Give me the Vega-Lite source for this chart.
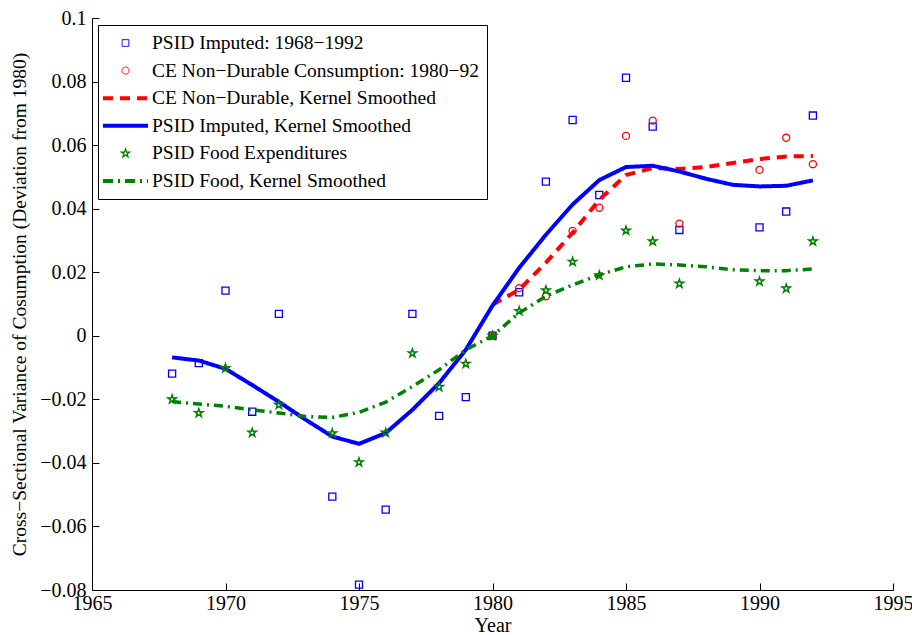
{
  "$schema": "https://vega.github.io/schema/vega-lite/v6.json",
  "width": 801,
  "height": 572,
  "autosize": "none",
  "padding": {"left": 92, "top": 18, "right": 19, "bottom": 45},
  "background": "white",
  "config": {
    "view": {"stroke": null},
    "font": "Liberation Serif",
    "axis": {
      "grid": false,
      "domainColor": "black",
      "domainWidth": 1,
      "tickColor": "black",
      "tickSize": -7,
      "labelFont": "Liberation Serif",
      "labelFontSize": 20,
      "labelColor": "black",
      "titleFont": "Liberation Serif",
      "titleFontWeight": "normal",
      "titleColor": "black"
    }
  },
  "data": {
    "values": [
      {"series": "PSID Imputed: 1968−1992", "year": 1968, "v": -0.0119},
      {"series": "PSID Imputed: 1968−1992", "year": 1969, "v": -0.0086},
      {"series": "PSID Imputed: 1968−1992", "year": 1970, "v": 0.0142},
      {"series": "PSID Imputed: 1968−1992", "year": 1971, "v": -0.0239},
      {"series": "PSID Imputed: 1968−1992", "year": 1972, "v": 0.0069},
      {"series": "PSID Imputed: 1968−1992", "year": 1974, "v": -0.0506},
      {"series": "PSID Imputed: 1968−1992", "year": 1975, "v": -0.0783},
      {"series": "PSID Imputed: 1968−1992", "year": 1976, "v": -0.0547},
      {"series": "PSID Imputed: 1968−1992", "year": 1977, "v": 0.0069},
      {"series": "PSID Imputed: 1968−1992", "year": 1978, "v": -0.0252},
      {"series": "PSID Imputed: 1968−1992", "year": 1979, "v": -0.0193},
      {"series": "PSID Imputed: 1968−1992", "year": 1980, "v": 0},
      {"series": "PSID Imputed: 1968−1992", "year": 1981, "v": 0.0137},
      {"series": "PSID Imputed: 1968−1992", "year": 1982, "v": 0.0485},
      {"series": "PSID Imputed: 1968−1992", "year": 1983, "v": 0.0679},
      {"series": "PSID Imputed: 1968−1992", "year": 1984, "v": 0.0443},
      {"series": "PSID Imputed: 1968−1992", "year": 1985, "v": 0.0812},
      {"series": "PSID Imputed: 1968−1992", "year": 1986, "v": 0.0658},
      {"series": "PSID Imputed: 1968−1992", "year": 1987, "v": 0.0333},
      {"series": "PSID Imputed: 1968−1992", "year": 1990, "v": 0.0341},
      {"series": "PSID Imputed: 1968−1992", "year": 1991, "v": 0.0391},
      {"series": "PSID Imputed: 1968−1992", "year": 1992, "v": 0.0693},

      {"series": "CE Non−Durable Consumption: 1980−92", "year": 1980, "v": 0},
      {"series": "CE Non−Durable Consumption: 1980−92", "year": 1981, "v": 0.015},
      {"series": "CE Non−Durable Consumption: 1980−92", "year": 1982, "v": 0.0124},
      {"series": "CE Non−Durable Consumption: 1980−92", "year": 1983, "v": 0.033},
      {"series": "CE Non−Durable Consumption: 1980−92", "year": 1984, "v": 0.0403},
      {"series": "CE Non−Durable Consumption: 1980−92", "year": 1985, "v": 0.0629},
      {"series": "CE Non−Durable Consumption: 1980−92", "year": 1986, "v": 0.0677},
      {"series": "CE Non−Durable Consumption: 1980−92", "year": 1987, "v": 0.0353},
      {"series": "CE Non−Durable Consumption: 1980−92", "year": 1990, "v": 0.0522},
      {"series": "CE Non−Durable Consumption: 1980−92", "year": 1991, "v": 0.0623},
      {"series": "CE Non−Durable Consumption: 1980−92", "year": 1992, "v": 0.054},

      {"series": "CE Non−Durable, Kernel Smoothed", "year": 1980, "v": 0.0098},
      {"series": "CE Non−Durable, Kernel Smoothed", "year": 1981, "v": 0.0145},
      {"series": "CE Non−Durable, Kernel Smoothed", "year": 1982, "v": 0.023},
      {"series": "CE Non−Durable, Kernel Smoothed", "year": 1983, "v": 0.0324},
      {"series": "CE Non−Durable, Kernel Smoothed", "year": 1984, "v": 0.0428},
      {"series": "CE Non−Durable, Kernel Smoothed", "year": 1985, "v": 0.0506},
      {"series": "CE Non−Durable, Kernel Smoothed", "year": 1986, "v": 0.0528},
      {"series": "CE Non−Durable, Kernel Smoothed", "year": 1987, "v": 0.0525},
      {"series": "CE Non−Durable, Kernel Smoothed", "year": 1988, "v": 0.0531},
      {"series": "CE Non−Durable, Kernel Smoothed", "year": 1989, "v": 0.0544},
      {"series": "CE Non−Durable, Kernel Smoothed", "year": 1990, "v": 0.0556},
      {"series": "CE Non−Durable, Kernel Smoothed", "year": 1991, "v": 0.0564},
      {"series": "CE Non−Durable, Kernel Smoothed", "year": 1992, "v": 0.0566},

      {"series": "PSID Imputed, Kernel Smoothed", "year": 1968, "v": -0.0068},
      {"series": "PSID Imputed, Kernel Smoothed", "year": 1969, "v": -0.0078},
      {"series": "PSID Imputed, Kernel Smoothed", "year": 1970, "v": -0.0104},
      {"series": "PSID Imputed, Kernel Smoothed", "year": 1971, "v": -0.0155},
      {"series": "PSID Imputed, Kernel Smoothed", "year": 1972, "v": -0.0208},
      {"series": "PSID Imputed, Kernel Smoothed", "year": 1973, "v": -0.0264},
      {"series": "PSID Imputed, Kernel Smoothed", "year": 1974, "v": -0.0317},
      {"series": "PSID Imputed, Kernel Smoothed", "year": 1975, "v": -0.034},
      {"series": "PSID Imputed, Kernel Smoothed", "year": 1976, "v": -0.0306},
      {"series": "PSID Imputed, Kernel Smoothed", "year": 1977, "v": -0.0233},
      {"series": "PSID Imputed, Kernel Smoothed", "year": 1978, "v": -0.0149},
      {"series": "PSID Imputed, Kernel Smoothed", "year": 1979, "v": -0.0044},
      {"series": "PSID Imputed, Kernel Smoothed", "year": 1980, "v": 0.0095},
      {"series": "PSID Imputed, Kernel Smoothed", "year": 1981, "v": 0.0214},
      {"series": "PSID Imputed, Kernel Smoothed", "year": 1982, "v": 0.0318},
      {"series": "PSID Imputed, Kernel Smoothed", "year": 1983, "v": 0.0413},
      {"series": "PSID Imputed, Kernel Smoothed", "year": 1984, "v": 0.049},
      {"series": "PSID Imputed, Kernel Smoothed", "year": 1985, "v": 0.0531},
      {"series": "PSID Imputed, Kernel Smoothed", "year": 1986, "v": 0.0535},
      {"series": "PSID Imputed, Kernel Smoothed", "year": 1987, "v": 0.0517},
      {"series": "PSID Imputed, Kernel Smoothed", "year": 1988, "v": 0.0494},
      {"series": "PSID Imputed, Kernel Smoothed", "year": 1989, "v": 0.0475},
      {"series": "PSID Imputed, Kernel Smoothed", "year": 1990, "v": 0.047},
      {"series": "PSID Imputed, Kernel Smoothed", "year": 1991, "v": 0.0472},
      {"series": "PSID Imputed, Kernel Smoothed", "year": 1992, "v": 0.0489},

      {"series": "PSID Food Expenditures", "year": 1968, "v": -0.02},
      {"series": "PSID Food Expenditures", "year": 1969, "v": -0.0243},
      {"series": "PSID Food Expenditures", "year": 1970, "v": -0.0102},
      {"series": "PSID Food Expenditures", "year": 1971, "v": -0.0305},
      {"series": "PSID Food Expenditures", "year": 1972, "v": -0.0217},
      {"series": "PSID Food Expenditures", "year": 1974, "v": -0.0307},
      {"series": "PSID Food Expenditures", "year": 1975, "v": -0.0398},
      {"series": "PSID Food Expenditures", "year": 1976, "v": -0.0305},
      {"series": "PSID Food Expenditures", "year": 1977, "v": -0.0055},
      {"series": "PSID Food Expenditures", "year": 1978, "v": -0.0161},
      {"series": "PSID Food Expenditures", "year": 1979, "v": -0.0088},
      {"series": "PSID Food Expenditures", "year": 1980, "v": 0},
      {"series": "PSID Food Expenditures", "year": 1981, "v": 0.0078},
      {"series": "PSID Food Expenditures", "year": 1982, "v": 0.0143},
      {"series": "PSID Food Expenditures", "year": 1983, "v": 0.0233},
      {"series": "PSID Food Expenditures", "year": 1984, "v": 0.019},
      {"series": "PSID Food Expenditures", "year": 1985, "v": 0.0331},
      {"series": "PSID Food Expenditures", "year": 1986, "v": 0.0297},
      {"series": "PSID Food Expenditures", "year": 1987, "v": 0.0164},
      {"series": "PSID Food Expenditures", "year": 1990, "v": 0.0171},
      {"series": "PSID Food Expenditures", "year": 1991, "v": 0.0149},
      {"series": "PSID Food Expenditures", "year": 1992, "v": 0.0297},

      {"series": "PSID Food, Kernel Smoothed", "year": 1968, "v": -0.0207},
      {"series": "PSID Food, Kernel Smoothed", "year": 1969, "v": -0.0215},
      {"series": "PSID Food, Kernel Smoothed", "year": 1970, "v": -0.0222},
      {"series": "PSID Food, Kernel Smoothed", "year": 1971, "v": -0.0233},
      {"series": "PSID Food, Kernel Smoothed", "year": 1972, "v": -0.0243},
      {"series": "PSID Food, Kernel Smoothed", "year": 1973, "v": -0.0254},
      {"series": "PSID Food, Kernel Smoothed", "year": 1974, "v": -0.0257},
      {"series": "PSID Food, Kernel Smoothed", "year": 1975, "v": -0.0241},
      {"series": "PSID Food, Kernel Smoothed", "year": 1976, "v": -0.0209},
      {"series": "PSID Food, Kernel Smoothed", "year": 1977, "v": -0.016},
      {"series": "PSID Food, Kernel Smoothed", "year": 1978, "v": -0.0107},
      {"series": "PSID Food, Kernel Smoothed", "year": 1979, "v": -0.0044},
      {"series": "PSID Food, Kernel Smoothed", "year": 1980, "v": 0},
      {"series": "PSID Food, Kernel Smoothed", "year": 1981, "v": 0.0072},
      {"series": "PSID Food, Kernel Smoothed", "year": 1982, "v": 0.0124},
      {"series": "PSID Food, Kernel Smoothed", "year": 1983, "v": 0.016},
      {"series": "PSID Food, Kernel Smoothed", "year": 1984, "v": 0.0192},
      {"series": "PSID Food, Kernel Smoothed", "year": 1985, "v": 0.0217},
      {"series": "PSID Food, Kernel Smoothed", "year": 1986, "v": 0.0226},
      {"series": "PSID Food, Kernel Smoothed", "year": 1987, "v": 0.0223},
      {"series": "PSID Food, Kernel Smoothed", "year": 1988, "v": 0.0217},
      {"series": "PSID Food, Kernel Smoothed", "year": 1989, "v": 0.0208},
      {"series": "PSID Food, Kernel Smoothed", "year": 1990, "v": 0.0205},
      {"series": "PSID Food, Kernel Smoothed", "year": 1991, "v": 0.0205},
      {"series": "PSID Food, Kernel Smoothed", "year": 1992, "v": 0.021}
    ]
  },
  "encoding": {
    "x": {
      "field": "year",
      "type": "quantitative",
      "title": "Year",
      "scale": {"domain": [1965, 1995], "nice": false, "zero": false},
      "axis": {
        "values": [1965, 1970, 1975, 1980, 1985, 1990, 1995],
        "format": "d",
        "labelFont": "Liberation Serif",
        "labelFontSize": 20,
        "labelPadding": 10,
        "labelFlush": false,
        "titleFont": "Liberation Serif",
        "titleFontSize": 20,
        "titleBaseline": "alphabetic",
        "titleY": 41
      }
    },
    "y": {
      "field": "v",
      "type": "quantitative",
      "title": "Cross−Sectional Variance of Cosumption (Deviation from 1980)",
      "scale": {"domain": [-0.08, 0.1], "nice": false, "zero": false},
      "axis": {
        "values": [-0.08, -0.06, -0.04, -0.02, 0, 0.02, 0.04, 0.06, 0.08, 0.1],
        "format": "~g",
        "labelFont": "Liberation Serif",
        "labelFontSize": 20,
        "labelPadding": 13,
        "labelFlush": false,
        "titleFont": "Liberation Serif",
        "titleFontSize": 19.5,
        "titleAngle": -90,
        "titleBaseline": "middle",
        "titleAlign": "center",
        "titleX": -73,
        "titleY": 286
      }
    },
    "color": {
      "field": "series",
      "type": "nominal",
      "scale": {
        "domain": [
          "PSID Imputed: 1968−1992",
          "CE Non−Durable Consumption: 1980−92",
          "CE Non−Durable, Kernel Smoothed",
          "PSID Imputed, Kernel Smoothed",
          "PSID Food Expenditures",
          "PSID Food, Kernel Smoothed"
        ],
        "range": ["#0000ff", "#ff0000", "#ff0000", "#0000ff", "#008000", "#008000"]
      },
      "legend": {
        "title": null,
        "orient": "none",
        "legendX": 6,
        "legendY": 7,
        "padding": 8,
        "rowPadding": 7.6,
        "strokeColor": "black",
        "fillColor": "white",
        "cornerRadius": 0,
        "labelFont": "Liberation Serif",
        "labelFontSize": 19.5,
        "labelColor": "black",
        "labelLimit": 500,
        "symbolSize": 100,
        "encode": {
          "symbols": {
            "update": {
              "shape": {"signal": "['square','circle','stroke','stroke','M0,-1L0.2245,-0.309L0.951,-0.309L0.363,0.118L0.588,0.809L0,0.382L-0.588,0.809L-0.363,0.118L-0.951,-0.309L-0.2245,-0.309Z','stroke'][datum.index]"},
              "size": {"signal": "[45,50,2025,2025,75,2025][datum.index]"},
              "stroke": {"signal": "['#0000ff','#ff0000','#ff0000','#0000ff','#008000','#00ff00'][datum.index]"},
              "strokeWidth": {"signal": "[1,1,4,4,1.3,4][datum.index]"},
              "strokeDash": {"signal": "[[1,0],[1,0],[10,7],[1,0],[1,0],[10,5,2,5]][datum.index]"},
              "fill": {"value": "transparent"},
              "opacity": {"value": 1},
              "x": {"value": 19.5},
              "y": {"value": 10}
            }
          },
          "labels": {
            "update": {
              "x": {"value": 46},
              "y": {"value": 10}
            }
          }
        }
      }
    }
  },
  "layer": [
    {
      "transform": [{"filter": "datum.series === 'PSID Imputed: 1968−1992' || datum.series === 'CE Non−Durable Consumption: 1980−92'"}],
      "mark": {"type": "point", "filled": false, "strokeWidth": 1.3, "opacity": 1},
      "encoding": {
        "shape": {
          "field": "series",
          "type": "nominal",
          "scale": {
            "domain": ["PSID Imputed: 1968−1992", "CE Non−Durable Consumption: 1980−92", "PSID Food Expenditures"],
            "range": ["square", "circle", "M0,-1L0.2245,-0.309L0.951,-0.309L0.363,0.118L0.588,0.809L0,0.382L-0.588,0.809L-0.363,0.118L-0.951,-0.309L-0.2245,-0.309Z"]
          },
          "legend": null
        },
        "size": {"value": 50}
      }
    },
    {
      "transform": [{"filter": "datum.series === 'CE Non−Durable, Kernel Smoothed' || datum.series === 'PSID Imputed, Kernel Smoothed'"}],
      "mark": {"type": "line", "strokeWidth": 4},
      "encoding": {
        "strokeDash": {
          "field": "series",
          "type": "nominal",
          "scale": {
            "domain": ["CE Non−Durable, Kernel Smoothed", "PSID Imputed, Kernel Smoothed", "PSID Food, Kernel Smoothed"],
            "range": [[10, 7], [1, 0], [9, 5, 2, 5]]
          },
          "legend": null
        }
      }
    },
    {
      "transform": [{"filter": "datum.series === 'PSID Food Expenditures'"}],
      "mark": {"type": "point", "filled": false, "strokeWidth": 1.5, "opacity": 1},
      "encoding": {
        "shape": {"field": "series", "type": "nominal", "legend": null},
        "size": {"value": 75}
      }
    },
    {
      "transform": [{"filter": "datum.series === 'PSID Food, Kernel Smoothed'"}],
      "mark": {"type": "line", "strokeWidth": 3.5},
      "encoding": {
        "strokeDash": {"field": "series", "type": "nominal", "legend": null}
      }
    }
  ]
}
